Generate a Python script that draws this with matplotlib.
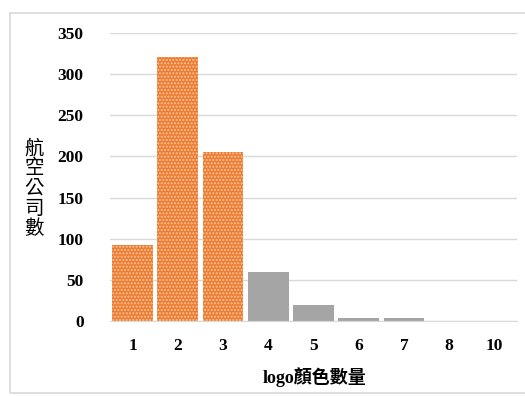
import matplotlib.pyplot as plt
from matplotlib.patches import Rectangle

# number of colours in each logo vs. how many airlines use that many
color_counts = ['1', '2', '3', '4', '5', '6', '7', '8', '10']
airlines = [92, 321, 205, 60, 19, 4, 4, 0, 0]
highlight = [True, True, True, False, False, False, False, False, False]

orange = '#ED7D31'
gray = '#A5A5A5'
cjk = ['Noto Sans CJK TC', 'DejaVu Sans']

plt.rcParams['hatch.linewidth'] = 1.0

fig = plt.figure(figsize=(5.25, 3.96), dpi=100)
ax = fig.add_axes([110 / 525, 1 - 321 / 396, 407 / 525, 288 / 396])

x = range(len(color_counts))
for i, (val, hi) in enumerate(zip(airlines, highlight)):
    if hi:
        ax.bar(i, val, width=0.9, color=orange, edgecolor='#F8C39E',
               hatch='.....', linewidth=0, zorder=2)
    else:
        ax.bar(i, val, width=0.9, color=gray, linewidth=0, zorder=2)

ax.set_xlim(-0.5, len(color_counts) - 0.5)
ax.set_ylim(0, 350)
ax.set_yticks(range(0, 351, 50))
ax.set_xticks(list(x))
ax.set_xticklabels(color_counts)
for lab in ax.get_xticklabels() + ax.get_yticklabels():
    lab.set_fontfamily('Liberation Serif')
    lab.set_fontweight('bold')
    lab.set_fontsize(12.5)

ax.yaxis.grid(True, color='#D9D9D9', linewidth=1, zorder=0)
ax.set_axisbelow(True)
for s in ['top', 'right', 'left']:
    ax.spines[s].set_visible(False)
ax.spines['bottom'].set_color('#D9D9D9')
ax.tick_params(axis='x', length=0, pad=12)
ax.tick_params(axis='y', length=0, pad=19)

fig.text(34 / 525, 1 - 188 / 396, '航\n空\n公\n司\n數', family=cjk, fontsize=14,
         ha='center', va='center', linespacing=0.95)
fig.text(315 / 525, 1 - 377 / 396, 'logo顏色數量', family=['Liberation Serif'] + cjk,
         fontsize=13, fontweight='bold', ha='center', va='center')

# thin frame around the whole chart
fig.patches.append(Rectangle((10 / 525, 3 / 396), 520 / 525, 380 / 396,
                             transform=fig.transFigure, fill=False,
                             edgecolor='#D9D9D9', linewidth=1.2))

fig.savefig('out.png', dpi=100)
